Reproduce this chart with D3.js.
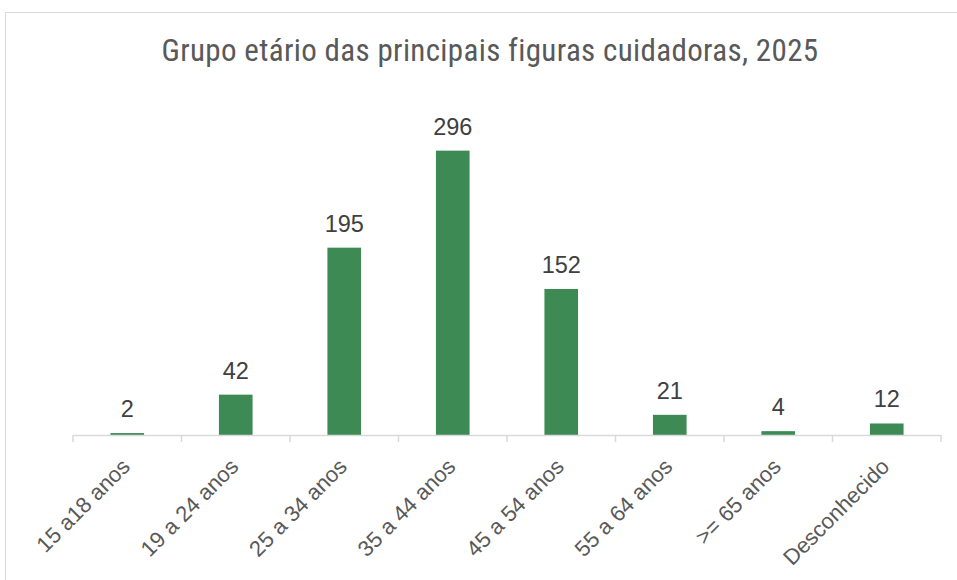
<!DOCTYPE html>
<html>
<head>
<meta charset="utf-8">
<script src="https://cdn.jsdelivr.net/npm/d3@7"></script>
<style>
  body { margin: 0; background: #fff; }
  svg { display: block; }
</style>
</head>
<body>
<svg id="chart" width="957" height="580"></svg>
<script>
// data
var categories = ["15 a18 anos", "19 a 24 anos", "25 a 34 anos", "35 a 44 anos",
                  "45 a 54 anos", "55 a 64 anos", ">= 65 anos", "Desconhecido"];
var values = [2, 42, 195, 296, 152, 21, 4, 12];
var title = "Grupo etário das principais figuras cuidadoras, 2025";

var svg = d3.select("#chart"),
    width = +svg.attr("width"),
    height = +svg.attr("height");

// chart area border
svg.append("rect")
    .attr("x", 5.5).attr("y", 12.5)
    .attr("width", width + 10).attr("height", height)
    .attr("fill", "#fff")
    .attr("stroke", "#d9d9d9");

var left = 73, right = 941, baseline = 435;

var x = d3.scaleBand()
    .domain(categories)
    .range([left, right])
    .paddingInner(0.69)
    .paddingOuter(0.345);

var y = d3.scaleLinear()
    .domain([0, 300])
    .range([baseline, baseline - 288.2]);

svg.append("text")
    .attr("x", 490).attr("y", 61)
    .attr("text-anchor", "middle")
    .attr("font-family", "'Liberation Sans Narrow', 'Roboto Condensed', sans-serif")
    .attr("font-size", 31)
    .attr("letter-spacing", 0.35)
    .attr("fill", "#595959")
    .text(title);

var g = svg.append("g");

g.selectAll(".bar")
    .data(values)
    .enter().append("rect")
      .attr("class", "bar")
      .attr("x", function(d, i) { return x(categories[i]); })
      .attr("y", function(d) { return y(d); })
      .attr("width", x.bandwidth())
      .attr("height", function(d) { return baseline - y(d); })
      .attr("fill", "#3d8a55");

g.selectAll(".val")
    .data(values)
    .enter().append("text")
      .attr("class", "val")
      .attr("x", function(d, i) { return x(categories[i]) + x.bandwidth() / 2; })
      .attr("y", function(d) { return y(d) - 16; })
      .attr("text-anchor", "middle")
      .attr("font-family", "'Liberation Sans', Arial, sans-serif")
      .attr("font-size", 23.5)
      .attr("fill", "#404040")
      .text(function(d) { return d; });

// x axis: line + ticks at band edges
var edges = categories.map(function(c) { return x(c) - x.step() * x.paddingInner() / 2; });
edges.push(right);

svg.append("line")
    .attr("x1", left).attr("x2", right)
    .attr("y1", baseline + 0.5).attr("y2", baseline + 0.5)
    .attr("stroke", "#d9d9d9").attr("stroke-width", 1.5);

svg.selectAll(".tick")
    .data(edges)
    .enter().append("line")
      .attr("class", "tick")
      .attr("x1", function(d) { return d; }).attr("x2", function(d) { return d; })
      .attr("y1", baseline).attr("y2", baseline + 7)
      .attr("stroke", "#d9d9d9").attr("stroke-width", 1.5);

svg.selectAll(".cat")
    .data(categories)
    .enter().append("text")
      .attr("class", "cat")
      .attr("transform", function(d) {
        return "translate(" + (x(d) + x.bandwidth() / 2 + 4) + "," + (baseline + 33) + ") rotate(-45)";
      })
      .attr("text-anchor", "end")
      .attr("font-family", "'Liberation Sans', Arial, sans-serif")
      .attr("font-size", 22)
      .attr("fill", "#595959")
      .text(function(d) { return d; });
</script>
</body>
</html>
